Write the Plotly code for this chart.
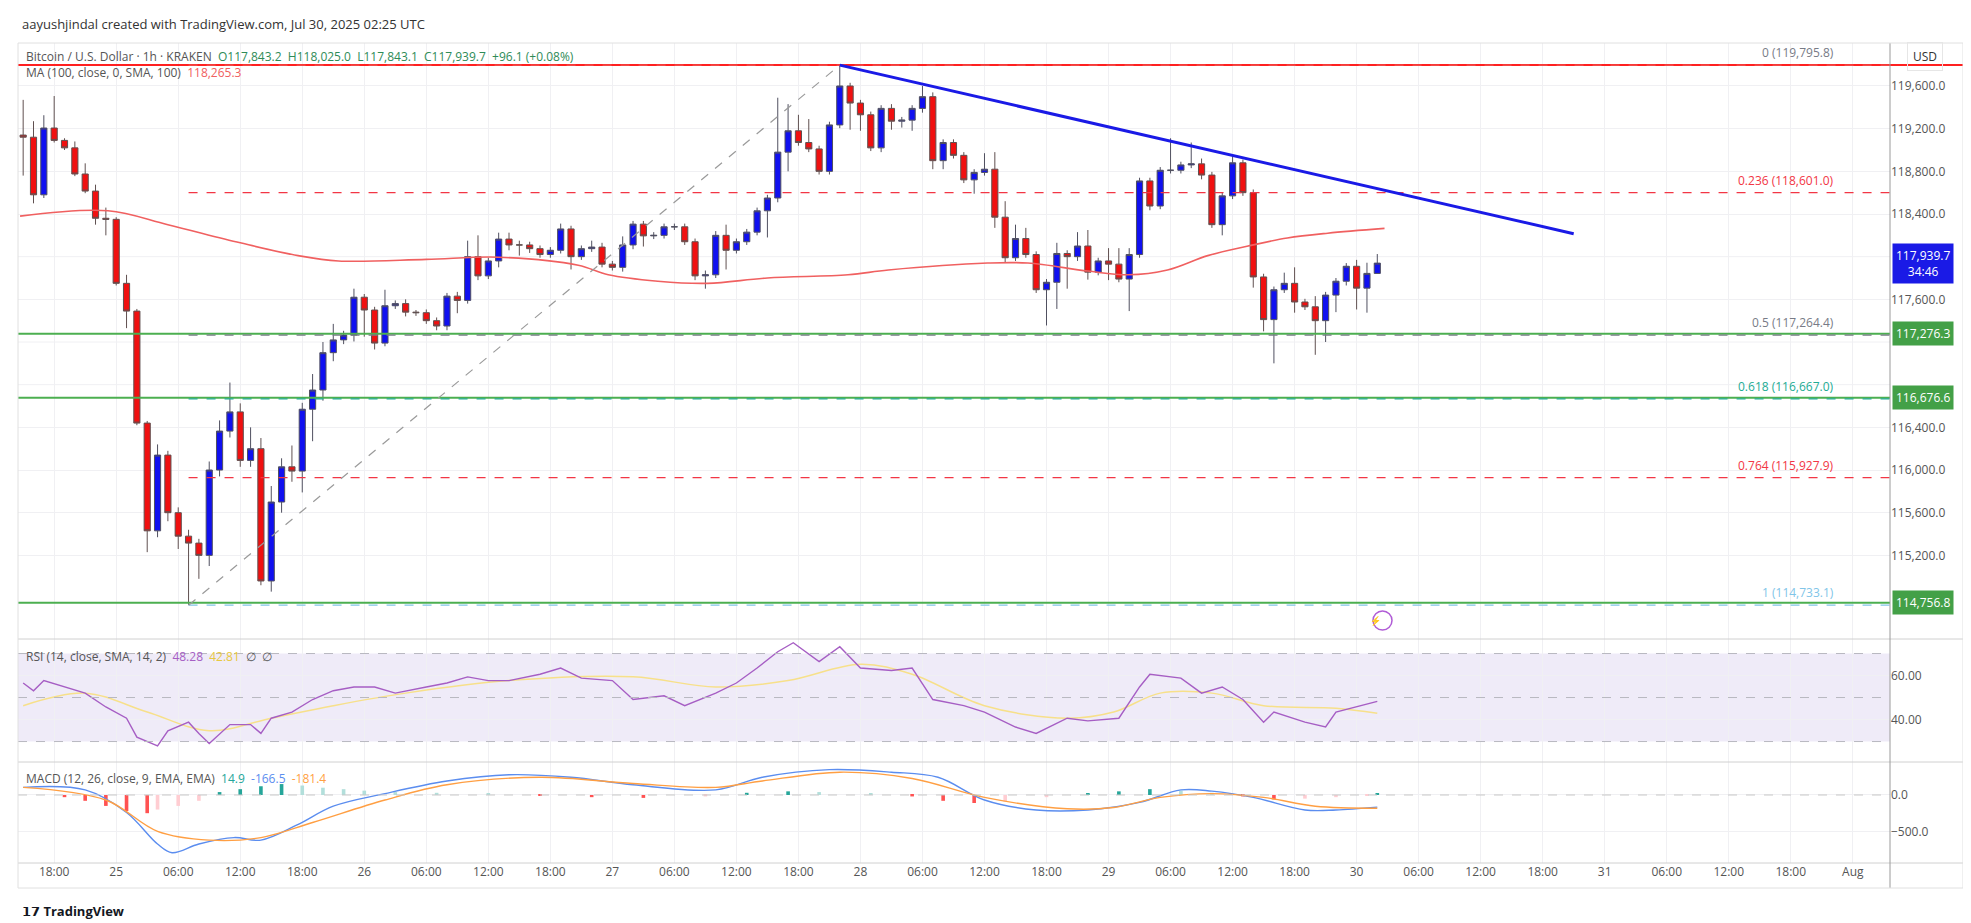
import plotly.graph_objects as go

W, H = 1971, 923
def fx(px): return px / W
def fy(py): return 1 - py / H

# ---------------- data ----------------
closes = [119120,118580,119206,119090,119020,118775,118615,118360,118350,117750,
          117490,116440,115430,116140,115600,115380,115315,115200,116000,116365,
          116545,116090,116200,114960,115700,116030,115990,116570,116750,117100,
          117220,117265,117620,117500,117190,117540,117560,117480,117475,117400,
          117350,117630,117590,118000,117820,117960,118165,118110,118110,118075,
          118020,118060,118260,118000,118075,118090,117930,117900,118110,118305,
          118195,118200,118280,118280,118140,117820,117830,118200,118060,118140,
          118230,118430,118550,118980,119180,119070,119010,118800,119235,119600,
          119440,119330,119020,119390,119270,119280,119390,119500,118900,119070,
          118950,118720,118790,118820,118370,117990,118170,118020,117690,117760,
          118030,118000,118100,117855,117960,117930,117790,118020,118710,118475,
          118810,118810,118860,118870,118765,118300,118570,118880,118600,117810,
          117410,117690,117750,117575,117530,117400,117640,117770,117910,117705,
          117843.2,117939.7]
first_open = 119140
upper_wick = [330,150,120,300,20,60,100,60,100,20,80,20,20,100,40,50,60,40,80,100,
              275,80,200,100,150,80,200,60,150,100,150,40,80,30,30,150,30,40,20,30,
              30,30,40,150,200,30,60,60,40,30,30,30,50,30,30,60,40,30,80,30,
              30,30,30,30,30,30,40,40,100,30,30,30,30,510,250,150,220,30,30,196,
              30,30,30,30,40,30,30,100,40,30,30,30,30,150,160,150,130,100,30,30,
              100,30,130,150,30,120,150,60,30,30,30,300,30,200,50,30,30,80,30,30,
              30,30,100,150,30,100,30,30,30,60,100,85]
lower_wick = [360,80,30,20,20,20,20,60,150,20,160,20,200,60,80,120,580,220,100,60,
              60,60,60,40,100,100,100,200,300,100,80,40,60,250,60,30,30,40,30,30,
              40,40,120,30,40,30,60,50,100,40,30,30,30,120,30,30,30,30,40,40,
              100,30,30,30,30,40,120,30,180,30,30,30,250,40,180,30,30,30,30,30,
              250,150,30,40,80,60,100,40,80,80,30,30,130,30,100,40,30,30,30,335,
              250,300,40,70,30,150,30,300,30,40,30,30,30,30,40,30,100,30,30,100,
              110,410,30,100,30,320,200,160,40,200,230,0]

ma_h = [-0.3,8.2,14,21,26.6,30.5,39,46,53.7,56.6,61.4,66.2,72,79.8,83.7,93.3,97.2,103,106.9,110.7,114.6,118.5,122.3,126.2,131.7]
ma_v = [118380,118430,118300,118130,118010,117960,117975,117995,117920,117830,117770,117750,117800,117830,117875,117940,117940,117865,117830,117875,118010,118100,118175,118220,118265.3]

rsi_h = [0,1,2,4,6,8,10,11,13,14,16,17,18,20,22,23,24,26,28,30,32,34,36,39,41,43,45,47,50,52,54,57,59,62,64,67,69,71,73,74.5,77,79,81,84,86,88,91,93,96,98,101,103,106,108,109,112,114,116,118,120,121,124,126,127,129,131]
rsi_v = [56.6,53.1,57.7,54.8,52,45.7,40.6,32,28,34.9,38.8,33.7,29.1,37.7,37.7,33.7,40.6,43.4,49.1,53.1,54.8,54.8,52,54.8,56.6,59.4,57.7,57.7,60.6,63.4,58.8,57.7,49.1,50.8,46.3,52,56.6,63.4,70.8,74.9,66.3,73.1,63.4,62.3,63.4,49.1,46.3,43.4,36.6,33.7,40.6,39.4,40.6,54.8,60.6,58.8,52,54.8,49.1,38.8,43.4,38.8,36.6,43.4,45.7,48.28]
rsig_h = [0,6,12,18,24,30,37,47,59,67,74,81,86,93,101,105.5,110,115,120,127,131]
rsig_v = [46.3,52,43.4,34.9,40.6,46.3,52,57.7,59.4,54.8,57.7,65.1,60.6,46.3,40.6,43.4,52,52,46.3,45.1,42.81]

macd_h = [0,6,10,13,14.4,17,20.4,23,26.5,30,35,41,47,53,59,67,71.5,78,84,88.5,93,98,103,108,112,115,119,124,127,131]
macd_v = [105,70,-240,-673,-793,-673,-585,-620,-412,-154,19,192,278,243,140,70,243,348,313,243,-69,-206,-206,-102,70,53,-33,-206,-206,-166.5]
msig_h = [0,8,13,18,23,28,35,41,50,59,67,71.5,79,86,93,101,105.5,110,115,120,125,131]
msig_v = [105,-69,-499,-620,-585,-378,-69,140,243,157,105,192,313,226,-33,-189,-171,-33,19,-33,-154,-181.4]
hist_h = [4,6,8,10,12,13,15,17,19,21,23,25,27,29,31,33,36,40,45,50,55,60,66,70,74,77,82,86,89,92,95,99,103,106,109,112,115,118,121,124,127,130,131]
hist_v = [-30,-80,-150,-220,-250,-200,-150,-80,40,80,120,150,130,100,80,60,40,30,20,-10,-30,-40,-20,30,50,40,20,-20,-80,-110,-90,-30,20,50,80,60,30,-20,-60,-50,-30,-10,14.9]

tick_text = ["18:00","25","06:00","12:00","18:00","26","06:00","12:00","18:00","27",
             "06:00","12:00","18:00","28","06:00","12:00","18:00","29","06:00","12:00",
             "18:00","30","06:00","12:00","18:00","31","06:00","12:00","18:00","Aug"]
price_ticks = [115200,115600,116000,116400,117600,118400,118800,119200,119600]
price_grid = [115200,115600,116000,116400,116800,117200,117600,118000,118400,118800,119200,119600]

fib_levels = [0, 0.236, 0.5, 0.618, 0.764, 1]
fib_prices = [119795.8, 118601.0, 117264.4, 116667.0, 115927.9, 114733.1]
fib_colors = ["#ef5350", "#f23645", "#787b86", "#22ab94", "#f23645", "#81c5e8"]
support_lines = [117276.3, 116676.6, 114756.8]
resistance_line = 119795.8
swing = [(16, 114733.1), (79, 119795.8)]
trend = [(79, 119795.8), (150, 118215)]
last_price = 117939.7
ma_last = 118265.3

# ---------------- derived ----------------
n = len(closes)
xs = list(range(n))
opens = [first_open] + closes[:-1]
highs = [max(o, c) + u for o, c, u in zip(opens, closes, upper_wick)]
lows = [min(o, c) - l for o, c, l in zip(opens, closes, lower_wick)]
tick_vals = [3 + 6 * i for i in range(len(tick_text))]
XR = [-0.5, 180.6]
grid = "#f0f0f3"

fig = go.Figure()
fig.add_trace(go.Candlestick(
    x=xs, open=opens, high=highs, low=lows, close=closes,
    increasing=dict(fillcolor="#1010f0", line=dict(color="#505060", width=1)),
    decreasing=dict(fillcolor="#f01010", line=dict(color="#605050", width=1)),
    whiskerwidth=0, xaxis="x", yaxis="y", showlegend=False, hoverinfo="skip"))
fig.add_trace(go.Scatter(x=ma_h, y=ma_v, mode="lines", line=dict(color="#f06060", width=1.6, shape="spline"),
                         xaxis="x", yaxis="y", showlegend=False))
fig.add_trace(go.Scatter(x=rsig_h, y=rsig_v, mode="lines", line=dict(color="#f7e08a", width=1.5, shape="spline"),
                         xaxis="x2", yaxis="y2", showlegend=False))
fig.add_trace(go.Scatter(x=rsi_h, y=rsi_v, mode="lines", line=dict(color="#a65ec4", width=1.4),
                         xaxis="x2", yaxis="y2", showlegend=False))
hcol = []
for i, v in enumerate(hist_v):
    prev = hist_v[i - 1] if i else v
    if v >= 0:
        hcol.append("#26a69a" if v >= prev else "#b2dfdb")
    else:
        hcol.append("#ff5252" if v <= prev else "#ffcdd2")
fig.add_trace(go.Bar(x=hist_h, y=hist_v, marker=dict(color=hcol, line=dict(width=0)), width=0.35,
                     xaxis="x3", yaxis="y3", showlegend=False))
fig.add_trace(go.Scatter(x=macd_h, y=macd_v, mode="lines", line=dict(color="#5b8def", width=1.4, shape="spline"),
                         xaxis="x3", yaxis="y3", showlegend=False))
fig.add_trace(go.Scatter(x=msig_h, y=msig_v, mode="lines", line=dict(color="#ff9f43", width=1.4, shape="spline"),
                         xaxis="x3", yaxis="y3", showlegend=False))

shapes = []
annotations = []
# horizontal grid for hidden-label price levels
for g in price_grid:
    if g not in price_ticks:
        shapes.append(dict(type="line", xref="x", yref="y", x0=XR[0], x1=XR[1], y0=g, y1=g,
                           line=dict(color=grid, width=1), layer="below"))
shapes.append(dict(type="rect", xref="x2", yref="y2", x0=XR[0], x1=XR[1], y0=30, y1=70,
                   fillcolor="rgba(126,87,194,0.12)", line=dict(width=0), layer="below"))
for lv in (70, 50, 30):
    shapes.append(dict(type="line", xref="x2", yref="y2", x0=XR[0], x1=XR[1], y0=lv, y1=lv,
                       line=dict(color="#b8b8c0", width=1, dash="dash")))
shapes.append(dict(type="line", xref="x3", yref="y3", x0=XR[0], x1=XR[1], y0=0, y1=0,
                   line=dict(color="#c8c8c8", width=1, dash="dash")))
shapes.append(dict(type="line", xref="x", yref="y", x0=XR[0], x1=XR[1], y0=resistance_line, y1=resistance_line,
                   line=dict(color="#ff2020", width=2)))
shapes.append(dict(type="line", xref="paper", yref="y", x0=fx(1882), x1=fx(1955), y0=resistance_line, y1=resistance_line,
                   line=dict(color="#ff2020", width=2)))
for s in support_lines:
    shapes.append(dict(type="line", xref="x", yref="y", x0=XR[0], x1=XR[1], y0=s, y1=s,
                       line=dict(color="#4caf50", width=2)))
for lv, p, c in zip(fib_levels, fib_prices, fib_colors):
    shapes.append(dict(type="line", xref="x", yref="y", x0=swing[0][0], x1=XR[1], y0=p, y1=p,
                       line=dict(color=c, width=1.3, dash="dash")))
    annotations.append(dict(xref="paper", yref="y", x=fx(1828), y=p, xanchor="right", yanchor="bottom",
                            text=f"{lv:g} ({p:,.1f})", showarrow=False, yshift=2,
                            font=dict(size=12, color=c if lv != 0 else "#787b86")))
shapes.append(dict(type="line", xref="x", yref="y", x0=swing[0][0], y0=swing[0][1], x1=swing[1][0], y1=swing[1][1],
                   line=dict(color="#9a9a9a", width=1.2, dash="dash")))
shapes.append(dict(type="line", xref="x", yref="y", x0=trend[0][0], y0=trend[0][1], x1=trend[1][0], y1=trend[1][1],
                   line=dict(color="#1a1ae6", width=3)))
for py in (631, 754, 855):
    shapes.append(dict(type="line", xref="paper", yref="paper", x0=fx(10), x1=fx(1955), y0=fy(py), y1=fy(py),
                       line=dict(color="#d0d0d0", width=1)))
shapes.append(dict(type="line", xref="paper", yref="paper", x0=fx(1882), x1=fx(1882), y0=fy(880), y1=fy(35),
                   line=dict(color="#9a9a9a", width=1)))
shapes.append(dict(type="rect", xref="paper", yref="paper", x0=fx(10), x1=fx(1955), y0=fy(880), y1=fy(35),
                   line=dict(color="#e0e0e0", width=1)))
shapes.append(dict(type="circle", xref="paper", yref="paper", x0=fx(1365), x1=fx(1384), y0=fy(622), y1=fy(603),
                   line=dict(color="#b05cd6", width=1.5)))
annotations.append(dict(xref="paper", yref="paper", x=fx(1374.5), y=fy(612.5), text="⚡", showarrow=False,
                        font=dict(size=9, color="#b05cd6")))

def tag(price, text, color):
    annotations.append(dict(xref="paper", yref="y", x=fx(1884), y=price, xanchor="left", yanchor="middle",
                            text=text, showarrow=False, bgcolor=color, borderpad=3,
                            font=dict(size=12, color="white")))
tag(last_price, f"{last_price:,.1f}<br>34:46", "#1a1ae6")
for s in support_lines:
    tag(s, f"{s:,.1f}", "#43a047")

F = "Open Sans"
annotations += [
    dict(xref="paper", yref="paper", x=fx(12), y=fy(16), xanchor="left", yanchor="middle", showarrow=False,
         text="aayushjindal created with TradingView.com, Jul 30, 2025 02:25 UTC", font=dict(size=13, color="#333")),
    dict(xref="paper", yref="paper", x=fx(16), y=fy(48), xanchor="left", yanchor="middle", showarrow=False,
         text="Bitcoin / U.S. Dollar · 1h · KRAKEN  <span style='color:#2e8b57'>O117,843.2  H118,025.0  L117,843.1  C117,939.7  +96.1 (+0.08%)</span>",
         font=dict(size=12, color="#555")),
    dict(xref="paper", yref="paper", x=fx(16), y=fy(64), xanchor="left", yanchor="middle", showarrow=False,
         text=f"MA (100, close, 0, SMA, 100)  <span style='color:#f06060'>{ma_last:,.1f}</span>",
         font=dict(size=12, color="#555")),
    dict(xref="paper", yref="paper", x=fx(16), y=fy(648), xanchor="left", yanchor="middle", showarrow=False,
         text="RSI (14, close, SMA, 14, 2)  <span style='color:#a65ec4'>48.28</span>  <span style='color:#e8c840'>42.81</span>  ∅  ∅",
         font=dict(size=12, color="#555")),
    dict(xref="paper", yref="paper", x=fx(16), y=fy(770), xanchor="left", yanchor="middle", showarrow=False,
         text="MACD (12, 26, close, 9, EMA, EMA)  <span style='color:#26a69a'>14.9</span>  <span style='color:#5b8def'>-166.5</span>  <span style='color:#ff9f43'>-181.4</span>",
         font=dict(size=12, color="#555")),
    dict(xref="paper", yref="paper", x=fx(1917), y=fy(48), xanchor="center", yanchor="middle", showarrow=False,
         text="USD", font=dict(size=12, color="#333"), bordercolor="#e6e6e6", borderpad=5),
    dict(xref="paper", yref="paper", x=fx(12), y=fy(903), xanchor="left", yanchor="middle", showarrow=False,
         text="<b>𝟭𝟳 TradingView</b>", font=dict(size=13, color="#131722")),
]

ax = dict(range=XR, showgrid=True, gridcolor=grid, zeroline=False, tickvals=tick_vals, ticktext=tick_text,
          rangeslider=dict(visible=False), showline=False, fixedrange=True)
fig.update_layout(
    width=W, height=H, margin=dict(l=0, r=0, t=0, b=0), boxgap=0.15,
    paper_bgcolor="white", plot_bgcolor="white", font=dict(family=F, size=12, color="#555"),
    xaxis=dict(ax, domain=[fx(10), fx(1882)], anchor="y", showticklabels=False),
    xaxis2=dict(ax, domain=[fx(10), fx(1882)], anchor="y2", matches="x", showticklabels=False),
    xaxis3=dict(ax, domain=[fx(10), fx(1882)], anchor="y3", matches="x", showticklabels=True,
                tickfont=dict(size=12, color="#555")),
    yaxis=dict(domain=[fy(631), fy(35)], range=[114416, 120003], side="right", tickvals=price_ticks,
               tickformat=",.1f", showgrid=True, gridcolor=grid, zeroline=False, anchor="x",
               tickfont=dict(size=12, color="#555")),
    yaxis2=dict(domain=[fy(754), fy(631)], range=[20.7, 76.6], side="right", tickvals=[40, 60],
                tickformat=".2f", showgrid=True, gridcolor=grid, zeroline=False, anchor="x2",
                tickfont=dict(size=12, color="#555")),
    yaxis3=dict(domain=[fy(855), fy(754)], range=[-934, 453], side="right", tickvals=[-500, 0],
                tickformat=".1f", showgrid=True, gridcolor=grid, zeroline=False, anchor="x3",
                tickfont=dict(size=12, color="#555")),
    shapes=shapes, annotations=annotations, bargap=0.5,
)
fig.write_html("out.html")
